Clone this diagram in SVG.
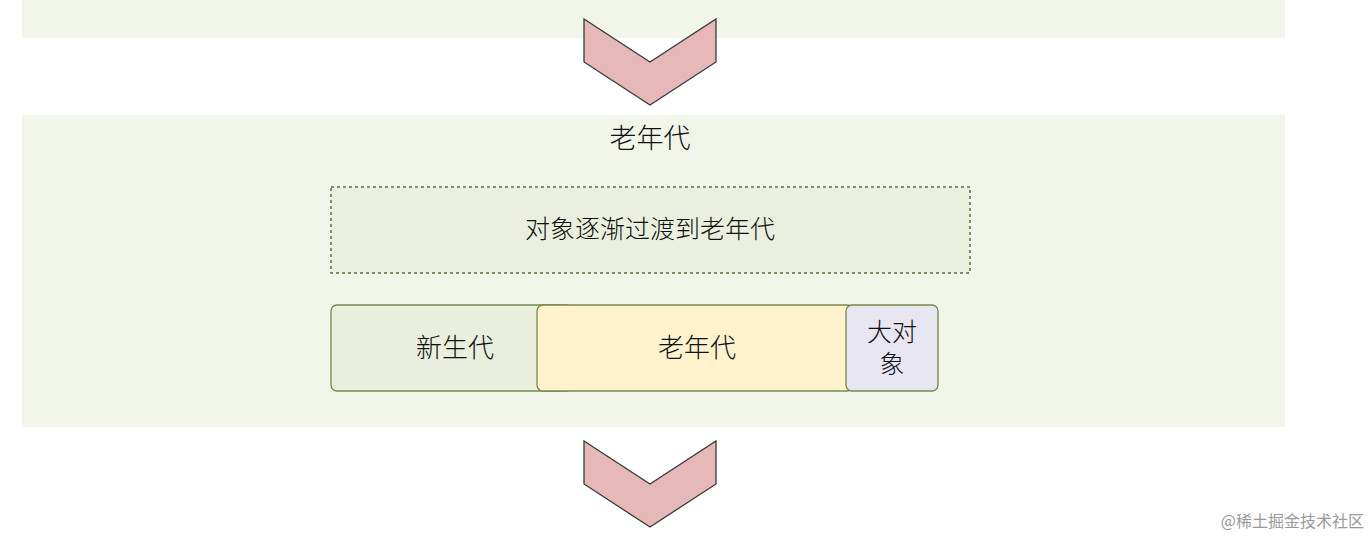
<svg xmlns="http://www.w3.org/2000/svg" width="1370" height="537" viewBox="0 0 1370 537">
<style>
.band{fill:#f1f5ea}
.chev{fill:#e6b8b7;stroke:#3a3a3a;stroke-width:1.3;stroke-linejoin:miter}
.t{font-family:"Noto Sans CJK SC",sans-serif;font-weight:300;fill:#111;text-anchor:middle}
.box{stroke:#76894f;stroke-width:1.3}
</style>
<rect width="1370" height="537" fill="#fff"/>
<rect class="band" x="22" y="0" width="1263" height="38"/>
<rect class="band" x="22" y="115" width="1263" height="312"/>
<g id="connectors">
<polygon class="chev" points="584,19 650,62 716,19 716,62 650,105 584,62"/>
<polygon class="chev" points="584,441 650,484 716,441 716,484 650,527 584,484"/>
</g>
<g id="title"><text class="t" x="650" y="148" font-size="27">老年代</text></g>
<g id="transition">
<rect x="331" y="187" width="639" height="86" fill="#eaf0dd" stroke="#5e6e3e" stroke-width="1.5" stroke-dasharray="3,3"/>
<text class="t" x="650" y="238" font-size="25">对象逐渐过渡到老年代</text>
</g>
<g id="young">
<rect class="box" x="331" y="305" width="242" height="86" rx="6" fill="#e9efdc"/>
<text class="t" x="455" y="357" font-size="26">新生代</text>
</g>
<g id="old">
<rect class="box" x="537" y="305" width="316" height="86" rx="6" fill="#fff2cc"/>
<text class="t" x="697" y="357" font-size="26">老年代</text>
</g>
<g id="large">
<rect class="box" x="846" y="305" width="92" height="86" rx="6" fill="#e8e6f0"/>
<text class="t" x="892" y="341" font-size="25">大对</text>
<text class="t" x="892" y="373" font-size="25">象</text>
</g>
<text x="1364" y="527" font-family="Noto Sans CJK SC,sans-serif" font-size="16" fill="#9a9a9a" text-anchor="end">@稀土掘金技术社区</text>
</svg>
